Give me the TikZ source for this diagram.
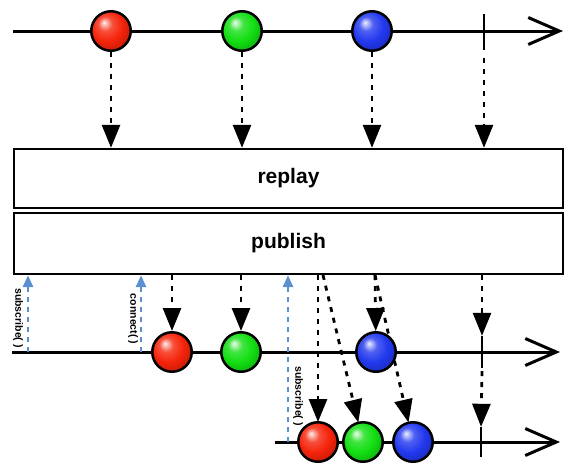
\documentclass[tikz,border=0pt]{standalone}
\usepackage{fontspec}
\setmainfont{Liberation Sans}
\usetikzlibrary{arrows.meta, positioning, calc}
\definecolor{mred}{HTML}{F5230A}
\definecolor{mgreen}{HTML}{12DE12}
\definecolor{mblue}{HTML}{2238EE}
\definecolor{subblue}{HTML}{5A8FD0}
\makeatletter
\pgfdeclareradialshading[tikz@ball]{marble}{\pgfqpoint{-9bp}{11bp}}{%
  color(0bp)=(tikz@ball!8!white); color(9bp)=(tikz@ball!80!white);
  color(20bp)=(tikz@ball); color(32bp)=(tikz@ball!78!black); color(50bp)=(tikz@ball!60!black)}
\makeatother

\begin{document}
\begin{tikzpicture}[x=1pt, y=-1pt,
  every node/.style={font=\bfseries},
  timeline/.style={line width=3pt, -{Straight Barb[length=31pt, width=27pt, line width=3pt]}},
  marble/.style={circle, draw=black, line width=2.5pt, minimum size=39.5pt, inner sep=0pt, ball color=#1, shading=marble},
  tickmark/.style={inner sep=0pt, minimum width=0pt, minimum height=#1},
  opbox/.style={rectangle, draw=black, line width=2.4pt, fill=white, minimum width=549pt, font=\bfseries\fontsize{21}{24}\selectfont},
  feed/.style={line width=2.8pt, dash pattern=on 5pt off 6pt, -{Triangle[length=23pt, width=18pt]}},
  sub/.style={subblue, line width=2.8pt, dash pattern=on 5pt off 5pt, -{Triangle[length=12pt, width=10pt]}},
  sublabel/.style={rotate=-90, inner sep=0pt, font=\bfseries\fontsize{10.5}{12}\selectfont},
]
\useasboundingbox (0,0) rectangle (577,474);

% source
\coordinate (src0) at (13,31);
\node[tickmark=35pt] (k1) at (484,32) {};
\draw[timeline] (src0) -- (563,31);
\draw[line width=2.6pt] (k1.north) -- (k1.south);
\node[marble=mred] (t1) at (111,31) {};
\node[marble=mgreen] (t2) at (242,31) {};
\node[marble=mblue] (t3) at (372,31) {};

% operators
\node[opbox, minimum height=59pt] (replay) at (288.5,178.5) {replay};
\node[opbox, minimum height=61pt] (publish) at (288.5,243.5) {publish};

\draw[feed] (t1) -- (t1 |- replay.north);
\draw[feed] (t2) -- (t2 |- replay.north);
\draw[feed] (t3) -- (t3 |- replay.north);
\draw[feed] ([yshift=-8pt]k1.south) -- (k1.south |- replay.north);

% first subscriber
\coordinate (mid0) at (12,352);
\node[tickmark=32pt] (k2) at (482,352) {};
\coordinate (m1) at (172,352);
\coordinate (m2) at (241,352);
\coordinate (m3) at (376,352);
\draw[timeline] (mid0) -- (560,352);
\draw[line width=2.6pt] (k2.north) -- (k2.south);

% second subscriber
\coordinate (bot0) at (275,442);
\node[tickmark=30pt] (k3) at (481,442) {};
\coordinate (b1) at (318,442);
\coordinate (b2) at (363,442);
\coordinate (b3) at (413,442);
\draw[timeline] (bot0) -- (560,442);
\draw[line width=2.6pt] (k3.north) -- (k3.south);

% replayed items
\coordinate (g2) at (323,275);
\coordinate (g3) at (375,275);
\draw[feed] (g3) -- ($(b3)+(-4.5,-19.5)$);
\draw[feed] (g2) -- ($(b2)+(-4.7,-19.4)$);
\draw[feed] (b1 |- publish.south) -- ($(b1)+(0,-20)$);

\node[marble=mred] (mm1) at (m1) {};
\node[marble=mgreen] (mm2) at (m2) {};
\node[marble=mblue] (mm3) at (m3) {};
\node[marble=mred] (bb1) at (b1) {};
\node[marble=mgreen] (bb2) at (b2) {};
\node[marble=mblue] (bb3) at (b3) {};

\draw[feed] (mm1 |- publish.south) -- (mm1);
\draw[feed] (mm2 |- publish.south) -- (mm2);
\draw[feed] (g3) -- (mm3);
\draw[feed] (k2 |- publish.south) -- (k2.north);
\draw[feed] ([yshift=-3pt]k2.south) -- (k3.north);

% subscribe / connect calls
\coordinate (s1) at (28,352);
\coordinate (c1) at (141,352);
\coordinate (s2) at (288,442);
\draw[sub] (s1) -- (s1 |- publish.south);
\draw[sub] (c1) -- (c1 |- publish.south);
\draw[sub] (s2) -- (s2 |- publish.south);
\node[sublabel] (l1) at (18,318) {subscribe( )};
\node[sublabel] (l2) at (133,319) {connect( )};
\node[sublabel] (l3) at (298,396) {subscribe( )};

\end{tikzpicture}
\end{document}
